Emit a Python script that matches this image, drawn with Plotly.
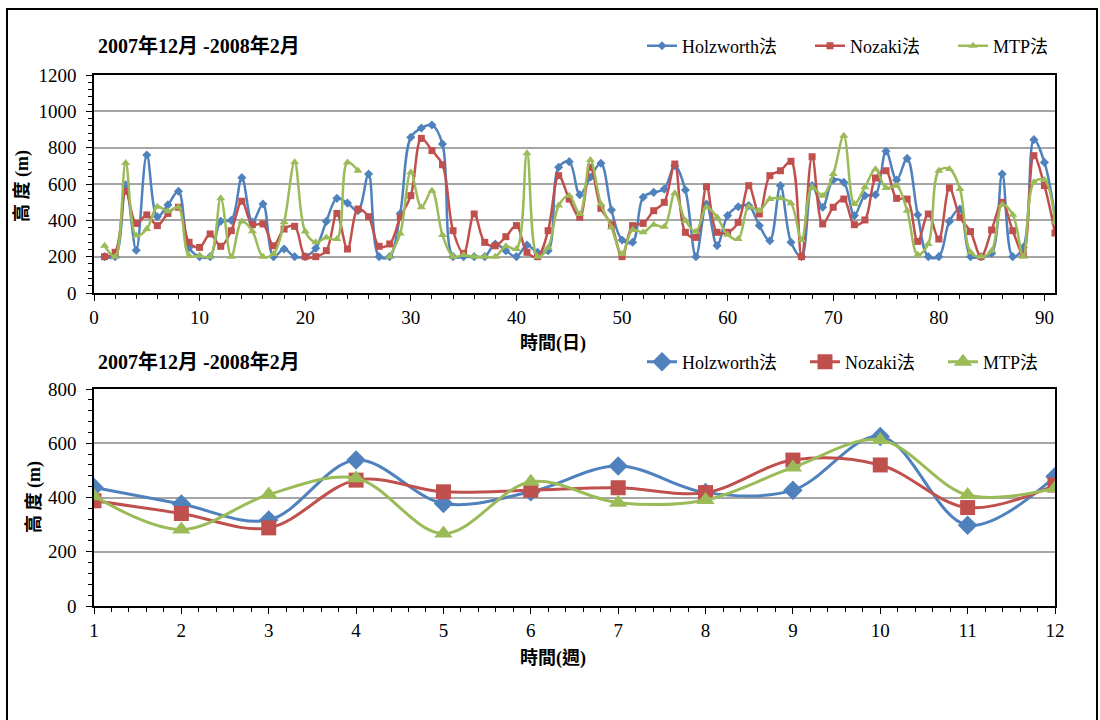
import plotly.graph_objects as go

# ---------------- data ----------------
days = list(range(1, 92))
holzworth_daily = [200, 200, 595, 235, 760, 420, 485, 560, 250, 200,
                   200, 395, 400, 635, 390, 490, 200, 242, 200, 200,
                   246, 394, 521, 495, 453, 655, 200, 200, 438, 857,
                   908, 925, 820, 200, 200, 200, 200, 270, 233, 200,
                   264, 224, 233, 692, 723, 541, 637, 714, 457, 292,
                   279, 527, 554, 572, 701, 567, 200, 490, 261, 426,
                   475, 481, 371, 288, 591, 279, 200, 591, 472, 622,
                   609, 426, 536, 541, 780, 622, 741, 431, 200, 200,
                   394, 462, 200, 200, 218, 655, 200, 251, 844, 719,
                   422]
nozaki_daily = [200, 224, 560, 383, 430, 371, 438, 472, 279, 251,
                325, 257, 343, 505, 376, 380, 260, 352, 367, 200,
                200, 233, 438, 242, 462, 420, 257, 270, 417, 536,
                851, 784, 706, 343, 218, 435, 279, 260, 310, 371,
                224, 200, 343, 646, 517, 417, 692, 466, 376, 200,
                371, 383, 453, 499, 710, 334, 306, 585, 334, 334,
                389, 591, 435, 646, 673, 725, 200, 750, 380, 472,
                517, 376, 402, 633, 673, 521, 517, 284, 435, 297,
                578, 417, 338, 200, 347, 499, 343, 215, 756, 591,
                330]
mtp_daily = [260, 200, 715, 316, 352, 475, 450, 472, 205, 205,
             200, 521, 200, 394, 340, 200, 215, 389, 720, 338,
             279, 306, 297, 719, 673, None, None, 200, 328, 664,
             472, 563, 319, 200, 209, 200, 200, 200, 257, 242,
             769, 200, 251, 481, 536, 435, 732, 490, 361, 215,
             347, 334, 376, 365, 549, 398, 338, 472, 417, 321,
             297, 475, 453, 517, 521, 494, 292, 582, 536, 655,
             866, 490, 582, 681, 578, 591, 453, 211, 270, 673,
             683, 572, 224, 200, 233, 486, 431, 200, 609, 622,
             389]

weeks = list(range(1, 13))
holzworth_weekly = [437, 376, 317, 538, 378, 421, 516, 418, 427, 625, 298, 477]
nozaki_weekly = [388, 341, 288, 464, 421, 427, 436, 418, 538, 520, 363, 446]
mtp_weekly = [405, 282, 411, 471, 267, 458, 381, 391, 511, 612, 409, 434]

series_names = ["Holzworth法", "Nozaki法", "MTP法"]
colors = ["#4F81BD", "#C0504D", "#9BBB59"]
symbols = ["diamond", "square", "triangle-up"]

title_text = "2007年12月 -2008年2月"
ytitle = "高 度 (m)"
xtitle_day = "時間(日)"
xtitle_week = "時間(週)"

FONT = "Times New Roman, Liberation Serif, DejaVu Serif, Noto Sans CJK TC, serif"
W, H = 1100, 720

def px(x):
    return x / W

def py(y):
    return 1 - y / H

fig = go.Figure()

top_legends = ["legend", "legend2", "legend3"]
bot_legends = ["legend4", "legend5", "legend6"]

daily = [holzworth_daily, nozaki_daily, mtp_daily]
top_sizes = [7, 7, 8]
for name, vals, c, s, ms, lg in zip(series_names, daily, colors, symbols, top_sizes, top_legends):
    fig.add_trace(go.Scatter(
        x=days, y=vals, name=name, mode="lines+markers",
        line=dict(color=c, width=2.5, shape="spline", smoothing=1.0),
        marker=dict(symbol=s, size=ms, color=c),
        connectgaps=False, xaxis="x", yaxis="y", legend=lg))

weekly = [holzworth_weekly, nozaki_weekly, mtp_weekly]
bot_sizes = [15, 15, 16]
for name, vals, c, s, ms, lg in zip(series_names, weekly, colors, symbols, bot_sizes, bot_legends):
    fig.add_trace(go.Scatter(
        x=weeks, y=vals, name=name, mode="lines+markers",
        line=dict(color=c, width=3, shape="spline", smoothing=1.0),
        marker=dict(symbol=s, size=ms, color=c),
        xaxis="x2", yaxis="y2", legend=lg))

axis_common = dict(
    showline=True, linecolor="black", linewidth=1.5, mirror=True,
    zeroline=False, ticks="outside", ticklen=6, tickcolor="black",
    automargin=False,
    tickfont=dict(family=FONT, size=19, color="black"),
)

def legend_at(xpix, ypix):
    return dict(orientation="h", x=px(xpix), xanchor="left", y=py(ypix), yanchor="middle",
                font=dict(family=FONT, size=18, color="black"),
                bgcolor="rgba(0,0,0,0)", itemwidth=30, tracegroupgap=0)

fig.update_layout(
    template="none",
    width=W, height=H, autosize=False,
    margin=dict(l=0, r=0, t=0, b=0, pad=0),
    paper_bgcolor="white", plot_bgcolor="white",
    font=dict(family=FONT, color="black"),
    xaxis=dict(domain=[px(94), px(1055)], anchor="y", range=[0, 91],
               tick0=0, dtick=10, showgrid=False,
               minor=dict(dtick=2, ticks="outside", ticklen=4, tickcolor="black"),
               **axis_common),
    yaxis=dict(domain=[py(293), py(75)], anchor="x", range=[0, 1200],
               dtick=200, showgrid=True, gridcolor="#A6A6A6", gridwidth=1.5,
               ticklabelstandoff=6,
               minor=dict(dtick=40, ticks="outside", ticklen=4, tickcolor="black"),
               **axis_common),
    xaxis2=dict(domain=[px(94), px(1055)], anchor="y2", range=[1, 12],
                tick0=1, dtick=1, showgrid=False,
                minor=dict(dtick=0.2, ticks="outside", ticklen=4, tickcolor="black"),
                **axis_common),
    yaxis2=dict(domain=[py(606), py(389)], anchor="x2", range=[0, 800],
                dtick=200, showgrid=True, gridcolor="#A6A6A6", gridwidth=1.5,
                ticklabelstandoff=6,
                minor=dict(dtick=40, ticks="outside", ticklen=4, tickcolor="black"),
                **axis_common),
    legend=legend_at(642, 46),
    legend2=legend_at(810, 46),
    legend3=legend_at(953, 46),
    legend4=legend_at(642, 362),
    legend5=legend_at(805, 362),
    legend6=legend_at(943, 362),
    showlegend=True,
)

annos = [
    dict(text="<b>" + title_text + "</b>", x=px(96), y=py(46), xanchor="left", yanchor="middle",
         font=dict(family=FONT, size=20, color="black")),
    dict(text="<b>" + title_text + "</b>", x=px(96), y=py(362), xanchor="left", yanchor="middle",
         font=dict(family=FONT, size=20, color="black")),
    dict(text="<b>" + ytitle + "</b>", x=px(22), y=py(186), xanchor="center", yanchor="middle",
         textangle=-90, font=dict(family=FONT, size=18, color="black")),
    dict(text="<b>" + ytitle + "</b>", x=px(34), y=py(497), xanchor="center", yanchor="middle",
         textangle=-90, font=dict(family=FONT, size=18, color="black")),
    dict(text="<b>" + xtitle_day + "</b>", x=px(553), y=py(343), xanchor="center", yanchor="middle",
         font=dict(family=FONT, size=18, color="black")),
    dict(text="<b>" + xtitle_week + "</b>", x=px(553), y=py(658), xanchor="center", yanchor="middle",
         font=dict(family=FONT, size=18, color="black")),
]
for a in annos:
    fig.add_annotation(xref="paper", yref="paper", showarrow=False, **a)

fig.add_shape(type="rect", xref="paper", yref="paper",
              x0=px(7), x1=px(1097), y0=-0.05, y1=py(9),
              line=dict(color="black", width=2), fillcolor="rgba(0,0,0,0)", layer="above")

fig.write_html("out.html", config={"displayModeBar": False},
               post_script="document.body.style.margin='0';")
